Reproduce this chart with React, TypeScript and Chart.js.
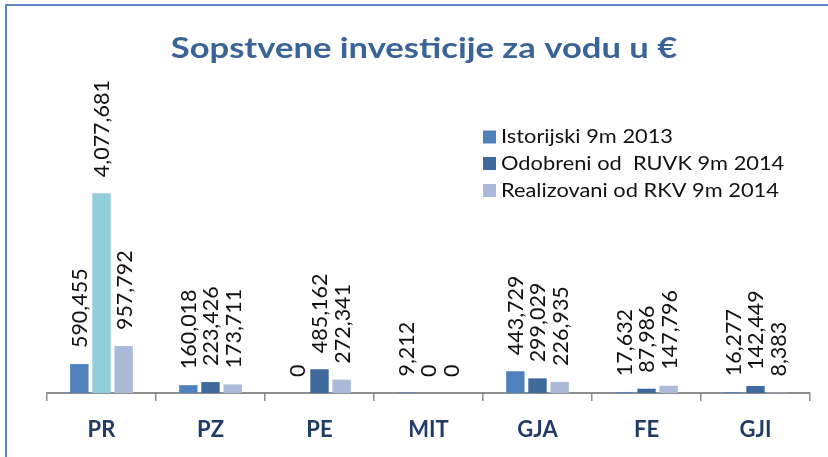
import React, { useEffect, useRef } from "react";
import { Chart, registerables } from "chart.js";

Chart.register(...registerables);

const categories = ["PR", "PZ", "PE", "MIT", "GJA", "FE", "GJI"];
const istorijski2013 = [590455, 160018, 0, 9212, 443729, 17632, 16277];
const odobreni2014 = [4077681, 223426, 485162, 0, 299029, 87986, 142449];
const realizovani2014 = [957792, 173711, 272341, 0, 226935, 147796, 8383];
const seriesNames = [
  "Istorijski 9m 2013",
  "Odobreni od  RUVK 9m 2014",
  "Realizovani od RKV 9m 2014",
];
const titleText = "Sopstvene investicije za vodu u €";

const COLOR_1 = "#4F81BD";
const COLOR_2 = "#3E6A9D";
const COLOR_2_PR = "#92CDDC";
const COLOR_3 = "#AABAD8";

const frameAndTextPlugin = {
  id: "frameAndText",
  beforeDraw(chart: any) {
    const ctx = chart.ctx;
    ctx.save();
    ctx.fillStyle = "#ffffff";
    ctx.fillRect(0, 0, chart.width, chart.height);
    ctx.strokeStyle = "#5B86C0";
    ctx.lineWidth = 2;
    ctx.beginPath();
    ctx.moveTo(6, chart.height + 2);
    ctx.lineTo(6, 5);
    ctx.lineTo(chart.width + 2, 5);
    ctx.stroke();
    ctx.restore();
  },
  afterDraw(chart: any) {
    const ctx = chart.ctx;
    // title
    ctx.save();
    ctx.fillStyle = "#3A6497";
    ctx.font = "bold 28px Lato";
    ctx.textAlign = "center";
    ctx.textBaseline = "alphabetic";
    ctx.translate(424, 58);
    ctx.scale(1.235, 1);
    ctx.fillText(titleText, 0, 0);
    ctx.restore();
    // legend
    ctx.save();
    const rowsY = [137, 163.5, 190.5];
    ctx.font = "18.5px Lato";
    ctx.textAlign = "left";
    ctx.textBaseline = "middle";
    chart.data.datasets.forEach((ds: any, i: number) => {
      ctx.fillStyle = ds.legendColor;
      ctx.fillRect(483, rowsY[i] - 6.5, 13, 13);
      ctx.fillStyle = "#111111";
      ctx.save();
      ctx.translate(501, rowsY[i] + 0.5);
      ctx.scale(1.18, 1);
      ctx.fillText(ds.label, 0, 0);
      ctx.restore();
    });
    ctx.restore();
  },
  afterDatasetsDraw(chart: any) {
    const ctx = chart.ctx;
    ctx.save();
    ctx.fillStyle = "#111111";
    ctx.font = "21.5px Lato";
    ctx.textAlign = "left";
    ctx.textBaseline = "middle";
    chart.data.datasets.forEach((ds: any, di: number) => {
      const meta = chart.getDatasetMeta(di);
      meta.data.forEach((el: any, i: number) => {
        const v = ds.data[i];
        const label = Number(v).toLocaleString("en-US");
        ctx.save();
        ctx.translate(el.x + 1, el.y - 16);
        ctx.rotate(-Math.PI / 2);
        ctx.fillText(label, 0, 0);
        ctx.restore();
      });
    });
    ctx.restore();
  },
};

export default function App() {
  const canvasRef = useRef<HTMLCanvasElement | null>(null);

  useEffect(() => {
    if (!canvasRef.current) return;
    const chart = new Chart(canvasRef.current, {
      type: "bar",
      data: {
        labels: categories,
        datasets: [
          {
            label: seriesNames[0],
            data: istorijski2013,
            backgroundColor: COLOR_1,
            legendColor: COLOR_1,
            categoryPercentage: 0.61,
            barPercentage: 0.83,
          } as any,
          {
            label: seriesNames[1],
            data: odobreni2014,
            backgroundColor: categories.map((c) => (c === "PR" ? COLOR_2_PR : COLOR_2)),
            legendColor: COLOR_2,
            categoryPercentage: 0.61,
            barPercentage: 0.83,
          } as any,
          {
            label: seriesNames[2],
            data: realizovani2014,
            backgroundColor: COLOR_3,
            legendColor: COLOR_3,
            categoryPercentage: 0.61,
            barPercentage: 0.83,
          } as any,
        ],
      },
      options: {
        animation: false,
        responsive: false,
        events: [],
        layout: {
          padding: { left: 47, right: 18, top: 148, bottom: -2 },
        },
        plugins: {
          legend: { display: false },
          title: { display: false },
          tooltip: { enabled: false },
        },
        scales: {
          x: {
            offset: true,
            grid: {
              display: true,
              offset: true,
              drawOnChartArea: false,
              drawTicks: true,
              tickLength: 8,
              color: "#8E8E8E",
              lineWidth: 1.5,
            },
            border: { display: true, color: "#8E8E8E", width: 2 },
            ticks: {
              padding: 18,
              color: "#1F3B66",
              font: { family: "Lato", size: 22, weight: "bold", lineHeight: 1.0 },
              maxRotation: 0,
              autoSkip: false,
            },
          },
          y: {
            display: false,
            min: 0,
            max: 5000000,
          },
        },
      },
      plugins: [frameAndTextPlugin],
    });
    return () => chart.destroy();
  }, []);

  return (
    <div style={{ position: "fixed", left: 0, top: 0, width: 828, height: 457 }}>
      <canvas ref={canvasRef} width={828} height={457} style={{ width: 828, height: 457, display: "block" }} />
    </div>
  );
}
